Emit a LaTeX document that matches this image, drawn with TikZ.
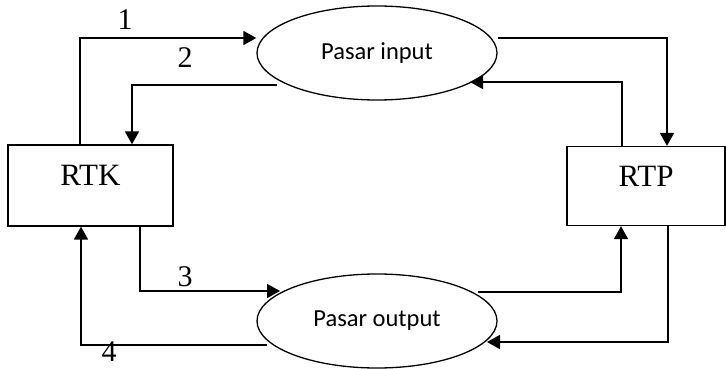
\documentclass[tikz,border=0pt]{standalone}
\usepackage{fontspec}
\setmainfont{Liberation Serif}
\newfontfamily\calibri{Carlito}
\usetikzlibrary{shapes.geometric,arrows.meta}

\begin{document}
\begin{tikzpicture}[x=1pt,y=-1pt,
  sector/.style={draw,line width=1.3pt,minimum width=165pt,minimum height=81pt,inner sep=0pt,text depth=20pt,font=\fontsize{31}{31}\selectfont},
  market/.style={ellipse,draw,line width=1.3pt,minimum width=240pt,minimum height=94pt,inner sep=0pt,font=\calibri\fontsize{24.5}{24.5}\selectfont},
  flow/.style={line width=1.6pt,-{Triangle[length=13pt,width=14pt]}},
  num/.style={font=\fontsize{30}{30}\selectfont}]
\useasboundingbox (0,0) rectangle (726,369);
% sectors and markets
\node[sector] (rtk) at (90.5,185.5) {RTK};
\node[sector,minimum width=158pt,minimum height=79pt] (rtp) at (646,186) {RTP};
\node[market] (input) at (377,53) {Pasar input};
\node[market] (output) at (377,321) {Pasar output};
% corners of the flows
\coordinate (e1) at (80,38);
\coordinate (e2) at (132,85);
\coordinate (e3) at (667,38);
\coordinate (e4) at (622,82);
\coordinate (e5) at (140,291);
\coordinate (e6) at (81,345);
\coordinate (e7) at (621,292);
\coordinate (e8) at (668,342);
\coordinate (s2) at (277,85);
\coordinate (t4) at (470,82);
\coordinate (t5) at (280,291);
\coordinate (s6) at (267,345);
\coordinate (s7) at (478,292);
\coordinate (t8) at (487,342);
% flows
\draw[flow] (rtk.north -| e1) -- (e1) -- (input.west |- e1);
\draw[flow] (s2) -- (e2) -- (rtk.north -| e2);
\draw[flow] (input.east |- e3) -- (e3) -- (rtp.north -| e3);
\draw[flow] (rtp.north -| e4) -- (e4) -- (t4);
\draw[flow] (rtk.south -| e5) -- (e5) -- (t5);
\draw[flow] (s6) -- (e6) -- (rtk.south -| e6);
\draw[flow] (s7) -- (e7) -- (rtp.south -| e7);
\draw[flow] (rtp.south -| e8) -- (e8) -- (t8);
% numbers
\node[num] (n1) at (125,20) {1};
\node[num] (n2) at (185,58) {2};
\node[num] (n3) at (185,277) {3};
\node[num] (n4) at (109,352) {4};
\end{tikzpicture}
\end{document}
